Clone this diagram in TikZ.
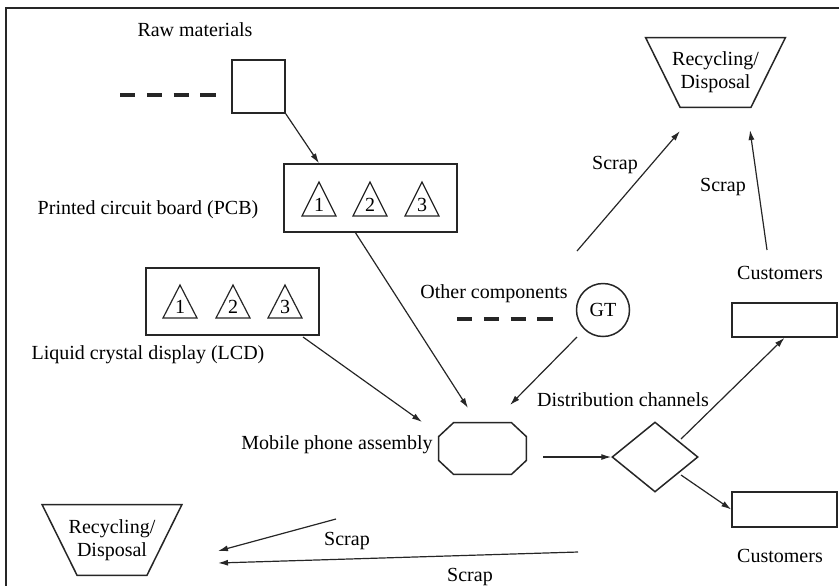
\documentclass[tikz,border=0pt]{standalone}
\usepackage{fontspec}
\setmainfont{Liberation Serif}
\usetikzlibrary{arrows.meta,shapes.geometric}

\begin{document}
\begin{tikzpicture}[
x=0.5pt, y=-0.5pt,
font=\fontsize{10}{11.5}\selectfont,
box/.style={draw=black!85, line width=0.75pt, inner sep=0pt},
tri/.style={draw=black!85, line width=0.6pt},
num/.style={inner sep=0pt},
lbl/.style={inner sep=0pt, align=center},
feed/.style={line width=2pt, dash pattern=on 7.7pt off 5.7pt, black!85},
arrow/.style={-{Latex[length=5pt,width=3pt]}, line width=0.6pt, black!85}
]
\clip (0,0) rectangle (839,585);
\draw[line width=1.2pt, black!85] (6,600) -- (6,8) -- (850,8);

% sources
\node[box, minimum size=26.5pt] (raw) at (258.5,86.5) {};
\node[lbl] (rawlbl) at (195,30) {Raw materials};
\coordinate (rawfeed) at (120,95);
\draw[feed] (rawfeed) -- (216,95);

\node[box, minimum width=86.5pt, minimum height=34pt] (pcb) at (370.5,198) {};
\node[lbl] (pcblbl) at (148,210) {Printed circuit board (PCB)};
\foreach \i/\x in {1/319,2/370,3/422}{
  \draw[tri] (\x,182) -- (\x+17,216) -- (\x-17,216) -- cycle;
  \node[num] (pcb\i) at (\x,205) {\i};
}

\node[box, minimum width=86.5pt, minimum height=33.5pt] (lcd) at (232.5,301.5) {};
\node[lbl] (lcdlbl) at (148,355) {Liquid crystal display (LCD)};
\foreach \i/\x in {1/180,2/233,3/285}{
  \draw[tri] (\x,285) -- (\x+17,318) -- (\x-17,318) -- cycle;
  \node[num] (lcd\i) at (\x,307) {\i};
}

\node[box, circle, minimum size=26.5pt] (gt) at (603,310) {GT};
\node[lbl] (otherlbl) at (494,294) {Other components};
\coordinate (otherfeed) at (457,319);
\draw[feed] (otherfeed) -- (553,319);

% assembly and distribution
\node[inner sep=0pt, minimum width=43.5pt, minimum height=25.5pt] (phone) at (482.5,448.5) {};
\draw[box] ([xshift=7.5pt]phone.north west) -- ([xshift=-7.5pt]phone.north east)
  -- ([yshift=-7pt]phone.north east) -- ([yshift=7pt]phone.south east)
  -- ([xshift=-7.5pt]phone.south east) -- ([xshift=7.5pt]phone.south west)
  -- ([yshift=7pt]phone.south west) -- ([yshift=-7pt]phone.north west) -- cycle;
\node[lbl] (phonelbl) at (337,445) {Mobile phone assembly};
\node[box, diamond, minimum width=43pt, minimum height=35pt] (dist) at (655,457) {};
\node[lbl] (distlbl) at (623,400) {Distribution channels};

\node[box, minimum width=52.5pt, minimum height=17pt] (cust1) at (784.5,320) {};
\node[lbl] (cust1lbl) at (780,273) {Customers};
\node[box, minimum width=52.5pt, minimum height=17.5pt] (cust2) at (784.5,509.5) {};
\node[lbl] (cust2lbl) at (780,556) {Customers};

% end of life
\node[lbl, minimum width=69.5pt, minimum height=34.5pt] (topbin) at (715.5,72.5) {Recycling/\\Disposal};
\draw[box] (topbin.north west) -- (topbin.north east) -- ([xshift=-17.25pt]topbin.south east)
  -- ([xshift=17.25pt]topbin.south west) -- cycle;
\node[lbl, minimum width=69.5pt, minimum height=35pt] (botbin) at (112,540) {Recycling/\\Disposal};
\draw[box] (botbin.north west) -- (botbin.north east) -- ([xshift=-17.5pt]botbin.south east)
  -- ([xshift=17.5pt]botbin.south west) -- cycle;

% flows
\coordinate (pcbout) at (355,232);
\coordinate (pcbtip) at (468,408);
\coordinate (lcdout) at (303,337);
\coordinate (lcdtip) at (422,422);
\coordinate (gtout) at (577,337);
\coordinate (gttip) at (510,405);
\coordinate (phoneout) at (543,457);
\coordinate (distup) at (681,439);
\coordinate (distdown) at (681,475);
\coordinate (custout) at (767,250);
\coordinate (custtip) at (750,130);
\coordinate (scrapout) at (577,251);
\coordinate (scraptip) at (680,131);
\coordinate (lossout) at (336,519);
\coordinate (losstip) at (218,551);
\coordinate (retout) at (578,552);
\coordinate (rettip) at (218,563);

\draw[arrow] (raw.south east) -- (pcb1 |- pcb.north);
\draw[arrow] (pcbout) -- (pcbtip);
\draw[arrow] (lcdout) -- (lcdtip);
\draw[arrow] (gtout) -- (gttip);
\draw[arrow] (phoneout) -- (dist.west);
\draw[arrow] (distup) -- (cust1.south);
\draw[arrow] (distdown) -- (cust2.west);
\draw[arrow] (custout) -- (custtip);
\draw[arrow] (scrapout) -- (scraptip);
\draw[arrow] (lossout) -- (losstip);
\draw[arrow] (retout) -- (rettip);

\node[lbl] (scrap1) at (615,165) {Scrap};
\node[lbl] (scrap2) at (723,187) {Scrap};
\node[lbl] (scrap3) at (347,541) {Scrap};
\node[lbl] (scrap4) at (470,577) {Scrap};
\end{tikzpicture}
\end{document}
